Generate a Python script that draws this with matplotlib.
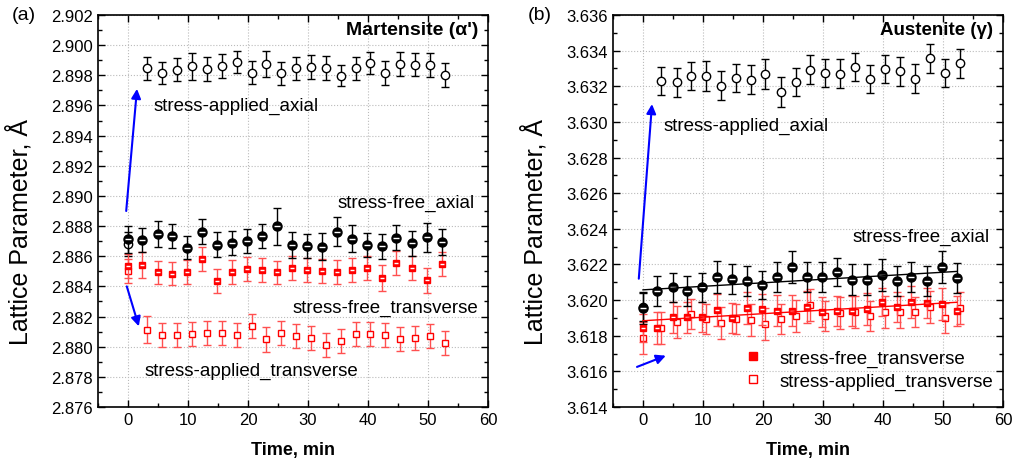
import numpy as np
import matplotlib
matplotlib.use('Agg')
import matplotlib.pyplot as plt
from matplotlib.lines import Line2D
from matplotlib.ticker import MultipleLocator, FormatStrFormatter

plt.rcParams['font.family'] = ['Liberation Sans', 'DejaVu Sans']
plt.rcParams['font.size'] = 12

# time points (min)
t_free = [0, 2.4, 5.0, 7.4, 9.9, 12.4, 14.9, 17.4, 19.8, 22.4, 24.8, 27.3, 29.8,
          32.3, 34.8, 37.3, 39.8, 42.3, 44.7, 47.3, 49.8, 52.3]
t_app_a = [0, 3.2, 5.7, 8.2, 10.7, 13.2, 15.6, 18.2, 20.7, 23.0, 25.5, 28.0, 30.5,
           33.0, 35.5, 38.0, 40.3, 42.8, 45.3, 47.8, 50.3, 52.8]
t_app_b = [0, 3.0, 5.6, 8.0, 10.5, 13.0, 15.5, 18.0, 20.4, 23.0, 25.5, 27.9, 30.4,
           32.9, 35.4, 37.9, 40.4, 42.9, 45.3, 47.8, 50.3, 52.8]

# (a) martensite
a_free_axial = [2.88712, 2.88708, 2.88747, 2.88734, 2.88656, 2.88762, 2.88676, 2.88686,
                2.88703, 2.88732, 2.88799, 2.88674, 2.88670, 2.88664, 2.88764, 2.88716,
                2.88674, 2.88666, 2.88723, 2.88686, 2.88726, 2.88693]
a_free_axial_err = [0.00088, 0.0008, 0.00084, 0.0008, 0.00077, 0.00082, 0.00084, 0.0008,
                    0.0008, 0.0008, 0.00124, 0.00084, 0.0008, 0.00088, 0.00093, 0.00088,
                    0.0008, 0.00082, 0.00084, 0.00082, 0.00097, 0.00086]
a_free_trans = [2.88537, 2.88542, 2.88493, 2.88484, 2.88493, 2.88582, 2.88436, 2.88497,
                2.88515, 2.88511, 2.88493, 2.88520, 2.88509, 2.88500, 2.88497, 2.88509,
                2.88520, 2.88454, 2.88555, 2.88520, 2.88440, 2.88548]
a_free_trans_err = [0.0008, 0.00084, 0.00077, 0.00075, 0.0008, 0.0008, 0.00082, 0.0008,
                    0.0008, 0.0008, 0.00078, 0.0008, 0.0008, 0.0008, 0.0008, 0.0008,
                    0.0008, 0.00085, 0.0008, 0.0008, 0.00085, 0.0008]
a_app_axial = [2.88681, 2.89846, 2.89815, 2.89837, 2.89860, 2.89844, 2.89860, 2.89890,
               2.89817, 2.89875, 2.89813, 2.89846, 2.89857, 2.89846, 2.89797, 2.89846,
               2.89884, 2.89813, 2.89875, 2.89870, 2.89868, 2.89802]
a_app_axial_err = [0.0008, 0.00077, 0.00075, 0.00075, 0.0009, 0.0008, 0.0008, 0.00073,
                   0.00077, 0.00085, 0.00077, 0.00077, 0.0008, 0.0008, 0.0007, 0.00077,
                   0.00073, 0.0008, 0.00077, 0.00077, 0.00077, 0.00077]
a_app_trans = [2.88500, 2.88113, 2.88079, 2.88075, 2.88084, 2.88089, 2.88093, 2.88079,
               2.88137, 2.88048, 2.88091, 2.88071, 2.88056, 2.88011, 2.88040, 2.88086,
               2.88086, 2.88077, 2.88051, 2.88060, 2.88073, 2.88024]
a_app_trans_err = [0.0008, 0.00088, 0.0008, 0.0008, 0.0008, 0.0008, 0.0008, 0.0008,
                   0.0008, 0.0008, 0.0008, 0.0008, 0.0008, 0.0008, 0.0008, 0.0008,
                   0.0008, 0.0008, 0.0008, 0.0008, 0.0008, 0.0008]

# (b) austenite
b_free_axial = [3.61956, 3.62053, 3.62072, 3.62053, 3.62072, 3.62128, 3.62118, 3.62109,
                3.62085, 3.62128, 3.62184, 3.62128, 3.62128, 3.62159, 3.62115, 3.62115,
                3.62141, 3.62109, 3.62131, 3.62109, 3.62184, 3.62122]
b_free_axial_err = [0.0009, 0.00085, 0.0008, 0.00085, 0.0008, 0.0009, 0.00085, 0.00085,
                    0.0008, 0.00085, 0.0009, 0.00085, 0.00085, 0.0008, 0.00085, 0.00085,
                    0.0009, 0.00085, 0.00085, 0.00085, 0.0009, 0.00085]
b_free_trans = [3.61842, 3.61843, 3.61903, 3.61903, 3.61907, 3.61944, 3.61900, 3.61956,
                3.61948, 3.61941, 3.61941, 3.61961, 3.61933, 3.61937, 3.61939, 3.61950,
                3.61988, 3.61963, 3.61988, 3.61982, 3.61980, 3.61939]
b_free_trans_err = [0.0008, 0.0009, 0.00085, 0.00085, 0.00085, 0.0009, 0.00085, 0.0009,
                    0.00085, 0.00085, 0.00085, 0.0009, 0.00085, 0.00085, 0.00085, 0.0009,
                    0.0008, 0.00085, 0.0009, 0.00085, 0.0009, 0.00085]
b_app_axial = [3.61960, 3.63230, 3.63222, 3.63259, 3.63256, 3.63203, 3.63246, 3.63237,
               3.63269, 3.63166, 3.63224, 3.63293, 3.63275, 3.63271, 3.63307, 3.63241,
               3.63297, 3.63284, 3.63243, 3.63357, 3.63275, 3.63329]
b_app_axial_err = [0.0008, 0.0008, 0.0008, 0.0008, 0.00085, 0.0008, 0.0008, 0.0008,
                   0.00085, 0.00084, 0.0008, 0.0008, 0.0008, 0.0008, 0.0008, 0.0008,
                   0.0008, 0.0008, 0.0008, 0.0008, 0.0008, 0.0008]
b_app_trans = [3.61787, 3.61842, 3.61879, 3.61920, 3.61894, 3.61871, 3.61894, 3.61888,
               3.61864, 3.61894, 3.61909, 3.61971, 3.61912, 3.61928, 3.61935, 3.61909,
               3.61932, 3.61932, 3.61935, 3.61963, 3.61901, 3.61954]
b_app_trans_err = [0.0009, 0.0009, 0.0009, 0.00085, 0.00085, 0.0009, 0.00085, 0.0009,
                   0.0009, 0.00085, 0.0009, 0.0009, 0.00085, 0.0009, 0.0009, 0.00085,
                   0.0009, 0.0009, 0.00085, 0.0009, 0.00085, 0.0009]

RED = '#ff0000'
RED_LIGHT = '#ff5050'


def style_axis(ax, ymin, ymax):
    ax.set_xlim(-5, 60)
    ax.set_ylim(ymin, ymax)
    ax.xaxis.set_major_locator(MultipleLocator(10))
    ax.xaxis.set_minor_locator(MultipleLocator(5))
    ax.yaxis.set_major_locator(MultipleLocator(0.002))
    ax.yaxis.set_minor_locator(MultipleLocator(0.001))
    ax.yaxis.set_major_formatter(FormatStrFormatter('%.3f'))
    ax.tick_params(which='both', direction='in', top=True, right=True, width=1)
    ax.tick_params(which='major', length=5, labelsize=12)
    ax.tick_params(which='minor', length=3)
    ax.grid(True, which='major', ls=':', color='#bbbbbb', lw=0.8)
    ax.set_axisbelow(True)
    for s in ax.spines.values():
        s.set_linewidth(1.2)
    ax.set_xlabel('Time, min', fontsize=13, fontweight='bold')
    ax.set_ylabel('Lattice Parameter, Å', fontsize=18)
    ax.yaxis.set_label_coords(-0.169, 0.45)
    ax.xaxis.set_label_coords(0.5, -0.088)


def filled(ax, t, y, e, color, marker, ms, ecolor):
    ax.errorbar(t, y, yerr=e, fmt=marker, ms=ms, mfc=color, mec=color, color=ecolor,
                elinewidth=1, capsize=3, capthick=1, zorder=4)
    # white stripe typical of the half-shaded markers
    ax.plot(t, y, ls='none', marker='_', color='white', ms=ms * 0.7, mew=1, zorder=5)


def hollow(ax, t, y, e, color, marker, ms, ecolor):
    ax.errorbar(t, y, yerr=e, fmt=marker, ms=ms, mfc='white', mec=color, mew=1,
                color=ecolor, elinewidth=1, capsize=3, capthick=1, zorder=3)


fig = plt.figure(figsize=(10.22, 4.64), dpi=100)
ax1 = fig.add_axes([98 / 1022, 1 - 408 / 464, 390 / 1022, 392 / 464])
ax2 = fig.add_axes([613 / 1022, 1 - 408 / 464, 390 / 1022, 392 / 464])

# ---- (a) Martensite
style_axis(ax1, 2.876, 2.902)
hollow(ax1, t_app_a, a_app_trans, a_app_trans_err, RED, 's', 5, RED_LIGHT)
hollow(ax1, t_app_a, a_app_axial, a_app_axial_err, 'black', 'o', 6, 'black')
filled(ax1, t_free, a_free_trans, a_free_trans_err, RED, 's', 5, RED_LIGHT)
filled(ax1, t_free, a_free_axial, a_free_axial_err, 'black', 'o', 6.5, 'black')

ax1.text(0.975, 0.963, "Martensite (α')", transform=ax1.transAxes, ha='right', va='center',
         fontsize=14, fontweight='bold')
ax1.text(4.2, 2.8960, 'stress-applied_axial', fontsize=13.5, va='center')
ax1.text(57.8, 2.8896, 'stress-free_axial', fontsize=13.5, va='center', ha='right')
ax1.text(27.5, 2.8826, 'stress-free_transverse', fontsize=13.5, va='center')
ax1.text(2.8, 2.8784, 'stress-applied_transverse', fontsize=13.5, va='center')
arrow = dict(arrowstyle='-|>', color='blue', lw=1.5, mutation_scale=14, shrinkA=0, shrinkB=0)
ax1.annotate('', xy=(1.5, 2.8971), xytext=(-0.3, 2.8890), arrowprops=arrow)
ax1.annotate('', xy=(1.8, 2.88135), xytext=(-0.2, 2.8840), arrowprops=arrow)
fig.text(12 / 1022, 1 - 16 / 464, '(a)', fontsize=14, va='center')

# ---- (b) Austenite
style_axis(ax2, 3.614, 3.636)
hollow(ax2, t_app_b, b_app_trans, b_app_trans_err, RED, 's', 5, RED_LIGHT)
hollow(ax2, t_app_b, b_app_axial, b_app_axial_err, 'black', 'o', 6, 'black')
filled(ax2, t_free, b_free_trans, b_free_trans_err, RED, 's', 5, RED_LIGHT)
filled(ax2, t_free, b_free_axial, b_free_axial_err, 'black', 'o', 6.5, 'black')

# linear fits of the stress-free series
tt = np.array([t_free[0], t_free[-1]])
k, b = np.polyfit(t_free, b_free_axial, 1)
ax2.plot(tt, k * tt + b, color='black', lw=1, zorder=6)
k, b = np.polyfit(t_free, b_free_trans, 1)
ax2.plot(tt, k * tt + b, color=RED, lw=1, zorder=6)

ax2.text(0.975, 0.963, 'Austenite (γ)', transform=ax2.transAxes, ha='right', va='center',
         fontsize=13.5, fontweight='bold')
ax2.text(3.4, 3.6298, 'stress-applied_axial', fontsize=13.5, va='center')
ax2.text(57.8, 3.6236, 'stress-free_axial', fontsize=13.5, va='center', ha='right')
ax2.annotate('', xy=(1.5, 3.6310), xytext=(-0.7, 3.6212), arrowprops=arrow)
ax2.annotate('', xy=(3.8, 3.61688), xytext=(-1.0, 3.61625), arrowprops=arrow)
handles = [Line2D([], [], ls='none', marker='s', ms=6, mfc=RED, mec=RED),
           Line2D([], [], ls='none', marker='s', ms=6, mfc='white', mec=RED, mew=1)]
ax2.legend(handles, ['stress-free_transverse', 'stress-applied_transverse'],
           loc='lower right', bbox_to_anchor=(1.008, 0.01), frameon=False, fontsize=13.5,
           handlelength=1.0, handletextpad=0.9, labelspacing=0.3, borderpad=0.2)
fig.text(528 / 1022, 1 - 16 / 464, '(b)', fontsize=14, va='center')

fig.savefig('out.png', dpi=100)
